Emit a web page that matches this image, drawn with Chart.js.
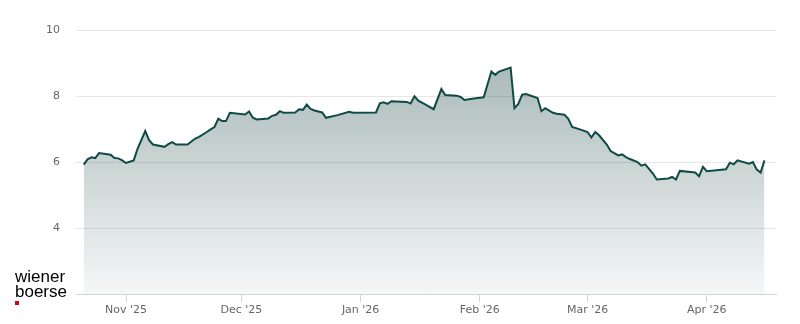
<!DOCTYPE html>
<html lang="en">
<head>
    <meta charset="UTF-8">
    <title>Share price</title>
    <script src="https://cdn.jsdelivr.net/npm/chart.js@4.4.1/dist/chart.umd.min.js"></script>
    <style>
        body { margin: 0; background: #fff; }
        #wrap { position: relative; width: 800px; height: 324px; }
        #logo { position: absolute; left: 15px; top: 269px; font: 17px "Liberation Sans", Arial, sans-serif; line-height: 15px; color: #000; }
        #logo i { position: absolute; left: 0; top: 32px; width: 4px; height: 4px; background: #d0021b; }
    </style>
</head>
<body>
    <div id="wrap">
        <canvas id="chart" width="800" height="324"></canvas>
        <div id="logo">wiener<br>boerse<i></i></div>
    </div>

    <script>
        // closing prices
        var dates = [
            "2025-10-21","2025-10-22","2025-10-23","2025-10-24","2025-10-25","2025-10-28","2025-10-29","2025-10-30","2025-10-31",
            "2025-11-01","2025-11-03","2025-11-04","2025-11-06","2025-11-07","2025-11-08","2025-11-11","2025-11-12","2025-11-13",
            "2025-11-14","2025-11-17","2025-11-19","2025-11-20","2025-11-22","2025-11-23","2025-11-24","2025-11-25","2025-11-26",
            "2025-11-27","2025-11-28","2025-12-02","2025-12-03","2025-12-04","2025-12-05","2025-12-08","2025-12-09","2025-12-10",
            "2025-12-11","2025-12-12","2025-12-15","2025-12-16","2025-12-17","2025-12-18","2025-12-19","2025-12-20","2025-12-22",
            "2025-12-23","2025-12-26","2025-12-29","2025-12-30","2026-01-05","2026-01-06","2026-01-07","2026-01-08","2026-01-09",
            "2026-01-13","2026-01-14","2026-01-15","2026-01-16","2026-01-18","2026-01-20","2026-01-22","2026-01-23","2026-01-26",
            "2026-01-27","2026-01-28","2026-01-30","2026-02-02","2026-02-04","2026-02-05","2026-02-06","2026-02-09","2026-02-10",
            "2026-02-11","2026-02-12","2026-02-13","2026-02-16","2026-02-17","2026-02-18","2026-02-20","2026-02-21","2026-02-23",
            "2026-02-24","2026-02-25","2026-02-27","2026-03-01","2026-03-02","2026-03-03","2026-03-04","2026-03-06","2026-03-07",
            "2026-03-09","2026-03-10","2026-03-11","2026-03-12","2026-03-14","2026-03-15","2026-03-16","2026-03-18","2026-03-19",
            "2026-03-22","2026-03-23","2026-03-24","2026-03-25","2026-03-29","2026-03-30","2026-03-31","2026-04-01","2026-04-06",
            "2026-04-07","2026-04-08","2026-04-09","2026-04-12","2026-04-13","2026-04-14","2026-04-15","2026-04-16"
        ]
        var prices = [
            5.92, 6.08, 6.14, 6.12, 6.27, 6.22, 6.12, 6.11, 6.05,
            5.97, 6.05, 6.40, 6.94, 6.66, 6.53, 6.46, 6.54, 6.60,
            6.53, 6.53, 6.71, 6.76, 6.91, 6.99, 7.06, 7.31, 7.24,
            7.24, 7.49, 7.44, 7.53, 7.34, 7.29, 7.32, 7.40, 7.43,
            7.54, 7.49, 7.50, 7.60, 7.58, 7.74, 7.61, 7.56, 7.50,
            7.34, 7.42, 7.52, 7.49, 7.50, 7.78, 7.81, 7.76, 7.84,
            7.82, 7.77, 7.99, 7.86, 7.73, 7.60, 8.21, 8.03, 8.01,
            7.97, 7.88, 7.92, 7.96, 8.74, 8.64, 8.74, 8.86, 7.63,
            7.76, 8.04, 8.06, 7.94, 7.54, 7.63, 7.49, 7.46, 7.43,
            7.31, 7.06, 6.99, 6.91, 6.74, 6.91, 6.81, 6.53, 6.33,
            6.20, 6.23, 6.15, 6.09, 6.00, 5.89, 5.93, 5.65, 5.47,
            5.50, 5.55, 5.47, 5.73, 5.68, 5.57, 5.85, 5.72, 5.78,
            5.98, 5.93, 6.05, 5.95, 6.00, 5.77, 5.68, 6.05
        ]
        var tickDates = ["2025-11-01", "2025-12-01", "2026-01-01", "2026-02-01", "2026-03-01", "2026-04-01"]
        var tickLabels = ["Nov '25", "Dec '25", "Jan '26", "Feb '26", "Mar '26", "Apr '26"]
        var yTicks = [2, 4, 6, 8, 10]
    </script>

    <script>
        function dayNum(s) { return Date.parse(s) / 86400000 }

        var points = dates.map(function (d, i) { return { x: dayNum(d), y: prices[i] } })

        Chart.defaults.font.family = "'DejaVu Sans', sans-serif"
        Chart.defaults.font.size = 11
        Chart.defaults.color = '#666'

        var ctx = document.getElementById('chart').getContext('2d')
        var myChart = new Chart(ctx, {
            type: 'line',
            data: {
                datasets: [{
                    data: points,
                    borderColor: '#104a45',
                    borderWidth: 2,
                    pointRadius: 0,
                    tension: 0,
                    fill: 'start',
                    backgroundColor: function (c) {
                        var area = c.chart.chartArea
                        if (!area) return 'rgba(0,50,45,0.2)'
                        var g = c.chart.ctx.createLinearGradient(0, area.top, 0, area.bottom)
                        g.addColorStop(0, 'rgba(0,50,45,0.38)')
                        g.addColorStop(1, 'rgba(0,50,45,0.04)')
                        return g
                    }
                }]
            },
            options: {
                responsive: false,
                animation: false,
                layout: { padding: { top: 30, right: 24, bottom: 0, left: 0 } },
                plugins: { legend: { display: false }, tooltip: { enabled: false } },
                scales: {
                    x: {
                        type: 'linear',
                        min: dayNum('2025-10-19'),
                        max: dayNum('2026-04-19'),
                        afterFit: function (s) { s.height = 30 },
                        afterBuildTicks: function (s) {
                            s.ticks = tickDates.map(function (d) { return { value: dayNum(d) } })
                        },
                        ticks: {
                            padding: 2,
                            maxRotation: 0,
                            autoSkip: false,
                            callback: function (v) {
                                var i = tickDates.map(dayNum).indexOf(v)
                                return i >= 0 ? tickLabels[i] : ''
                            }
                        },
                        grid: { drawOnChartArea: false, tickLength: 8, color: '#ccd6eb' },
                        border: { color: '#ccd6eb', width: 1 }
                    },
                    y: {
                        min: 2,
                        max: 10,
                        afterFit: function (s) { s.width = 76 },
                        afterBuildTicks: function (s) {
                            s.ticks = yTicks.map(function (v) { return { value: v } })
                        },
                        ticks: {
                            padding: 16,
                            callback: function (v) { return v === 2 ? '' : v }
                        },
                        grid: {
                            drawTicks: false,
                            color: function (c) { return c.tick && c.tick.value === 2 ? 'rgba(0,0,0,0)' : '#e6e6e6' }
                        },
                        border: { display: false }
                    }
                }
            }
        })
    </script>
</body>
</html>
